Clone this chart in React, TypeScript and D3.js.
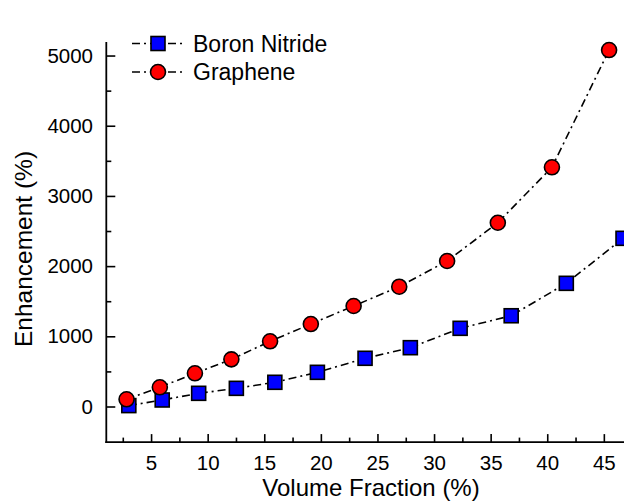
import React from "react";
import * as d3 from "d3";

const bnX = [2.99, 5.94, 9.16, 12.49, 15.89, 19.65, 23.86, 27.86, 32.26, 36.77, 41.64, 46.65];
const bnY = [20, 100, 195, 266, 352, 494, 694, 845, 1121, 1300, 1762, 2403];
const grX = [2.79, 5.73, 8.83, 12.05, 15.47, 19.07, 22.85, 26.88, 31.11, 35.59, 40.37, 45.42];
const grY = [110, 281, 480, 679, 936, 1182, 1439, 1714, 2080, 2625, 3415, 5085];
const xTicks = [5, 10, 15, 20, 25, 30, 35, 40, 45];
const yTicks = [0, 1000, 2000, 3000, 4000, 5000];
const seriesNames = ["Boron Nitride", "Graphene"];

const W = 624;
const H = 502;
const FONT = "'Liberation Sans', Arial, sans-serif";
const DASH = "8,4,2,4";

export default function App() {
  const x = d3.scaleLinear().domain([1, 48]).range([106.3, 638.3]);
  const y = d3.scaleLinear().domain([-500, 5200]).range([442.1, 42]);
  const line = d3
    .line<[number, number]>()
    .x((d) => x(d[0]))
    .y((d) => y(d[1]));
  const bn: [number, number][] = bnX.map((v, i) => [v, bnY[i]]);
  const gr: [number, number][] = grX.map((v, i) => [v, grY[i]]);
  const xMinor = d3.range(2.5, 48, 5);
  const yMinor = d3.range(500, 5200, 1000);
  const x0 = x(1);
  const yb = y(-500);
  const sq = 14;
  const r = 7.5;

  return (
    <div style={{ position: "absolute", left: 0, top: 0 }}>
      <svg width={W} height={H} style={{ display: "block", background: "#fff" }}>
        <rect width={W} height={H} fill="#fff" />
        {/* lines */}
        <path d={line(bn) || ""} fill="none" stroke="#000" strokeWidth={1.6} strokeDasharray={DASH} />
        <path d={line(gr) || ""} fill="none" stroke="#000" strokeWidth={1.6} strokeDasharray={DASH} />
        {/* markers */}
        {bn.map((d, i) => (
          <rect
            key={"b" + i}
            x={x(d[0]) - sq / 2}
            y={y(d[1]) - sq / 2}
            width={sq}
            height={sq}
            fill="#0000ff"
            stroke="#000"
            strokeWidth={1.6}
          />
        ))}
        {gr.map((d, i) => (
          <circle key={"g" + i} cx={x(d[0])} cy={y(d[1])} r={r} fill="#ff0000" stroke="#000" strokeWidth={1.6} />
        ))}
        {/* axes */}
        <line x1={x0} x2={x0} y1={42} y2={yb + 1} stroke="#000" strokeWidth={1.8} />
        <line x1={x0 - 1} x2={W} y1={yb} y2={yb} stroke="#000" strokeWidth={1.8} />
        {xTicks.map((t) => (
          <g key={"xt" + t}>
            <line x1={x(t)} x2={x(t)} y1={yb} y2={yb - 8} stroke="#000" strokeWidth={1.6} />
            <text x={x(t)} y={470} textAnchor="middle" fontFamily={FONT} fontSize={20.5} fill="#000">
              {t}
            </text>
          </g>
        ))}
        {xMinor.map((t) => (
          <line key={"xm" + t} x1={x(t)} x2={x(t)} y1={yb} y2={yb - 4.5} stroke="#000" strokeWidth={1.6} />
        ))}
        {yTicks.map((t) => (
          <g key={"yt" + t}>
            <line x1={x0} x2={x0 + 9} y1={y(t)} y2={y(t)} stroke="#000" strokeWidth={1.6} />
            <text x={93} y={y(t) + 6.5} textAnchor="end" fontFamily={FONT} fontSize={20.5} fill="#000">
              {t}
            </text>
          </g>
        ))}
        {yMinor.map((t) => (
          <line key={"ym" + t} x1={x0} x2={x0 + 5} y1={y(t)} y2={y(t)} stroke="#000" strokeWidth={1.6} />
        ))}
        {/* axis titles */}
        <text x={371} y={496} textAnchor="middle" fontFamily={FONT} fontSize={24} fill="#000">
          Volume Fraction (%)
        </text>
        <text
          transform={`translate(32,249) rotate(-90)`}
          textAnchor="middle"
          fontFamily={FONT}
          fontSize={24.5}
          fill="#000"
        >
          Enhancement (%)
        </text>
        {/* legend */}
        {seriesNames.map((name, i) => {
          const ly = 43.5 + i * 28.5;
          return (
            <g key={name}>
              <line x1={132} x2={182} y1={ly} y2={ly} stroke="#000" strokeWidth={1.6} strokeDasharray={DASH} />
              {i === 0 ? (
                <rect x={158 - sq / 2} y={ly - sq / 2} width={sq} height={sq} fill="#0000ff" stroke="#000" strokeWidth={1.6} />
              ) : (
                <circle cx={158} cy={ly} r={r} fill="#ff0000" stroke="#000" strokeWidth={1.6} />
              )}
              <text x={193} y={ly + 8} fontFamily={FONT} fontSize={23} fill="#000">
                {name}
              </text>
            </g>
          );
        })}
      </svg>
    </div>
  );
}
